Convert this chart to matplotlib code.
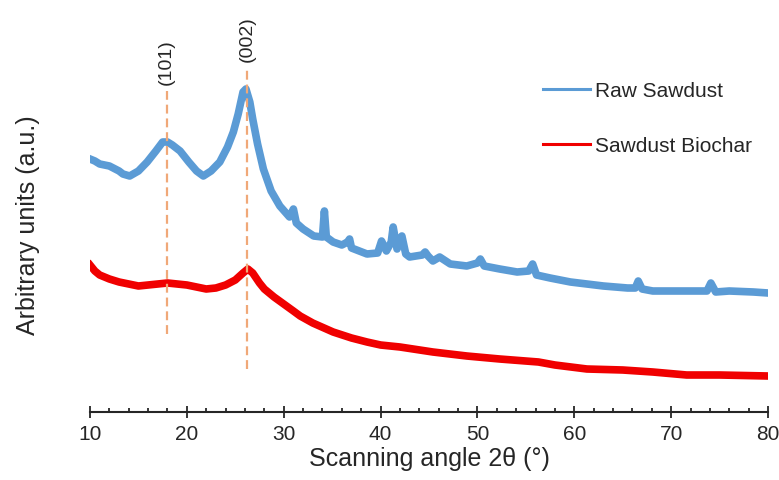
import matplotlib
matplotlib.use("Agg")
import matplotlib.pyplot as plt
from matplotlib.ticker import MultipleLocator

plt.rcParams["font.family"] = ["Liberation Sans", "DejaVu Sans"]

# raw sawdust, 2theta (deg) vs intensity (a.u.)
raw_x = [10.0, 10.5, 11.0, 12.0, 13.0, 13.4, 14.1, 15.0, 15.9, 16.8, 17.5, 18.0, 18.5,
         19.3, 20.2, 21.0, 21.7, 22.5, 23.4, 24.2, 24.8, 25.3, 25.8, 26.1, 26.5, 26.8,
         27.3, 27.9, 28.7, 29.6, 30.6, 31.0, 31.3, 32.0, 33.1, 34.0, 34.2, 34.4, 35.1,
         36.0, 36.6, 36.8, 37.0, 38.6, 39.7, 40.1, 40.6, 41.1, 41.3, 41.7, 42.2, 42.6,
         43.0, 44.3, 44.6, 44.9, 45.4, 46.1, 47.2, 48.9, 50.0, 50.3, 50.7, 52.3, 54.1,
         55.3, 55.7, 56.1, 57.5, 59.6, 61.3, 63.0, 65.5, 66.3, 66.6, 67.0, 68.1, 70.0,
         71.6, 72.9, 73.7, 74.1, 74.6, 76.0, 78.5, 80.0]
raw_y = [253, 251, 248, 246, 241, 238, 236, 241, 250, 261, 270, 270, 267,
         261, 250, 241, 236, 241, 250, 265, 280, 298, 320, 323, 310, 293,
         268, 243, 221, 206, 195, 203, 189, 183, 176, 175, 201, 175, 170,
         167, 170, 173, 164, 158, 159, 171, 161, 170, 185, 163, 176, 158,
         155, 157, 160, 156, 151, 155, 148, 146, 149, 153, 146, 143, 140,
         141, 148, 137, 134, 130, 128, 126, 124, 124, 131, 123, 121, 121,
         121, 121, 121, 129, 120, 121, 120, 119]

# sawdust biochar
char_x = [10.0, 10.5, 11.0, 12.0, 13.0, 14.0, 15.0, 16.0, 17.0, 18.0, 19.0, 20.0, 21.0,
          22.0, 23.0, 24.0, 25.0, 25.8, 26.3, 26.8, 27.5, 28.0, 29.0, 30.0, 31.0, 31.7,
          33.0, 35.1, 37.0, 38.6, 40.0, 42.0, 45.4, 48.9, 52.3, 56.3, 58.0, 61.3, 65.0,
          68.1, 71.6, 75.0, 80.0]
char_y = [147, 141, 137, 133, 130, 128, 126, 127, 128, 129, 128, 127, 125,
          123, 124, 127, 132, 139, 143, 139, 129, 123, 115, 108, 101, 96,
          89, 80, 74, 70, 67, 65, 60, 56, 53, 50, 47, 43, 42,
          40, 37, 37, 36]

# reflections
peak_pos = [17.9, 26.2]
peak_labels = ["(101)", "(002)"]

fig = plt.figure(figsize=(7.79, 4.81), dpi=100)
ax = fig.add_axes([90 / 779, 68 / 481, 678 / 779, 413 / 481])

blue = "#5B9BD5"
red = "#F00000"
ax.plot(raw_x, raw_y, color=blue, lw=5.5, solid_joinstyle="round", label="Raw Sawdust")
ax.plot(char_x, char_y, color=red, lw=5.5, solid_joinstyle="round", label="Sawdust Biochar")

# dashed guides + rotated hkl labels
spans = [(78, 321), (43, 345)]
tops = [328, 351]
for pos, lab, (lo, hi), top in zip(peak_pos, peak_labels, spans, tops):
    ax.vlines(pos, lo, hi, colors="#F0A878", linestyles=(0, (4, 2.2)), lw=1.6)
    ax.text(pos, top, lab, rotation=90, ha="center", va="bottom", fontsize=14,
            color="#262626")

ax.set_xlim(10, 80)
ax.set_ylim(0, 413)
ax.xaxis.set_major_locator(MultipleLocator(10))
ax.xaxis.set_minor_locator(MultipleLocator(2))
ax.tick_params(axis="x", which="major", direction="inout", length=9, width=1.3,
               labelsize=15, pad=4, colors="#262626")
ax.tick_params(axis="x", which="minor", direction="in", length=3, width=1.3,
               colors="#262626")
ax.set_yticks([])
for side in ["left", "right", "top"]:
    ax.spines[side].set_visible(False)
ax.spines["bottom"].set_linewidth(1.5)
ax.spines["bottom"].set_color("#262626")

ax.set_xlabel("Scanning angle 2θ (°)", fontsize=18, color="#262626", labelpad=2)
fig.text(28 / 779, 1 - 225 / 481, "Arbitrary units (a.u.)", rotation=90, fontsize=18,
         ha="center", va="center", color="#262626")

leg = ax.legend(loc="upper left", bbox_to_anchor=(543 / 779, 1 - 82 / 481),
                bbox_transform=fig.transFigure, frameon=False, fontsize=15,
                handlelength=2.25, handletextpad=0.25, labelspacing=1.75,
                borderpad=0, borderaxespad=0)
for line in leg.get_lines():
    line.set_linewidth(2.2)
for t in leg.get_texts():
    t.set_color("#262626")

fig.savefig("out.png", dpi=100)
